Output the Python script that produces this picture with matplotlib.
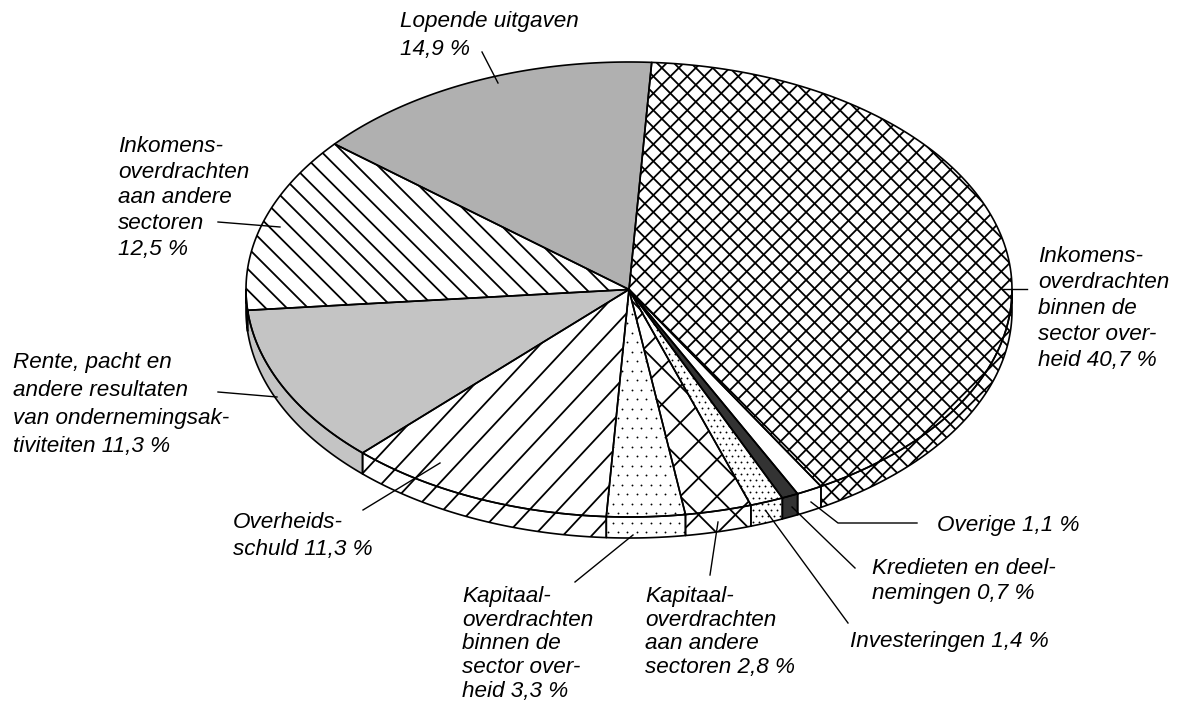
import numpy as np
import matplotlib.pyplot as plt
from matplotlib.patches import Polygon
from matplotlib.collections import LineCollection

plt.rcParams['font.family'] = ['Liberation Sans', 'DejaVu Sans']

# data: slices clockwise starting at the top
labels = ["Inkomens-\noverdrachten\nbinnen de\nsector over-\nheid 40,7 %",
          "Overige 1,1 %",
          "Kredieten en deel-\nnemingen 0,7 %",
          "Investeringen 1,4 %",
          "Kapitaal-\noverdrachten\naan andere\nsectoren 2,8 %",
          "Kapitaal-\noverdrachten\nbinnen de\nsector over-\nheid 3,3 %",
          "Overheids-\nschuld 11,3 %",
          "Rente, pacht en\nandere resultaten\nvan ondernemingsak-\ntiviteiten 11,3 %",
          "Inkomens-\noverdrachten\naan andere\nsectoren\n12,5 %",
          "Lopende uitgaven\n14,9 %"]
shares = [40.7, 1.1, 0.7, 1.4, 2.8, 3.3, 11.3, 11.3, 12.5, 14.9]

# fill style per slice: (facecolor, kind, param)
styles = [("white", "cross", 12),
          ("white", None, 0),
          ("#333333", None, 0),
          ("white", "dots", 6),
          ("white", "cross", 26),
          ("white", "dots", 9.5),
          ("white", "fwd", 21),
          ("#c4c4c4", None, 0),
          ("white", "back", 15),
          ("#b0b0b0", None, 0)]

# label placement: (x, first baseline, line step)
label_pos = [(1038, 262, 26), (937, 531, 25), (872, 574, 24.5), (850, 647, 25),
             (645, 602, 23.5), (462, 602, 23.7), (233, 528, 27),
             (13, 368, 28), (118, 152, 25.7), (400, 27, 28)]
leaders = [[(1027, 289), (1003, 289)],
           [(917, 523), (838, 523), (811, 502)],
           [(855, 568), (792, 507)],
           [(848, 623), (766, 511)],
           [(710, 575), (718, 522)],
           [(575, 582), (633, 535)],
           [(363, 510), (440, 463)],
           [(218, 392), (277, 397)],
           [(218, 222), (280, 227)],
           [(482, 52), (498, 83)]]

W, H = 1193, 708
fig = plt.figure(figsize=(W / 100, H / 100), dpi=100)
ax = fig.add_axes([0, 0, 1, 1])
ax.set_xlim(0, W)
ax.set_ylim(H, 0)
ax.axis('off')

cx, cy, rx, ry, depth = 629, 289.5, 383, 227.5, 21
start = 86.6


def arc(t1, t2, dy=0, n=120):
    t = np.radians(np.linspace(t1, t2, n))
    return np.column_stack([cx + rx * np.cos(t), cy - ry * np.sin(t) + dy])


def lines_in(patch, angle, gap, lw=1.3):
    xy = patch.get_xy()
    d = np.array([np.cos(np.radians(angle)), -np.sin(np.radians(angle))])
    nrm = np.array([-d[1], d[0]])
    proj = xy @ nrm
    L = 2000
    segs = []
    for k in range(int(np.floor(proj.min() / gap)), int(np.ceil(proj.max() / gap)) + 1):
        p = nrm * k * gap
        segs.append([p - d * L, p + d * L])
    lc = LineCollection(segs, colors='black', linewidths=lw, zorder=2)
    ax.add_collection(lc)
    lc.set_clip_path(patch)


def dots_in(patch, gap):
    xy = patch.get_xy()
    xs = np.arange(np.floor(xy[:, 0].min() / gap) * gap, xy[:, 0].max() + gap, gap)
    ys = np.arange(np.floor(xy[:, 1].min() / gap) * gap, xy[:, 1].max() + gap, gap)
    gx, gy = np.meshgrid(xs, ys)
    gx = gx + (np.arange(len(ys))[:, None] % 2) * gap / 2
    sc = ax.scatter(gx.ravel(), gy.ravel(), s=1.8, c='black', lw=0, zorder=2)
    sc.set_clip_path(patch)


def fill(poly, style):
    fc, kind, p = style
    patch = Polygon(poly, closed=True, facecolor=fc, edgecolor='none', zorder=1)
    ax.add_patch(patch)
    if kind == "cross":
        lines_in(patch, 45, p)
        lines_in(patch, -45, p)
    elif kind == "fwd":
        lines_in(patch, 47, p)
    elif kind == "back":
        lines_in(patch, -45, p)
    elif kind == "dots":
        dots_in(patch, p)
    ax.add_patch(Polygon(poly, closed=True, facecolor='none', edgecolor='black',
                         lw=1.2, zorder=3, joinstyle='round'))


edges = start - 360 * np.concatenate([[0], np.cumsum(shares)]) / 100

for i, st in enumerate(styles):
    hi, lo = edges[i], edges[i + 1]
    # side wall (front half only)
    a, b = max(lo, -180), min(hi, 0)
    if a < b:
        top = arc(b, a)
        bot = arc(a, b, depth)
        fill(np.vstack([top, bot]), st)
    # top face
    fill(np.vstack([[cx, cy], arc(hi, lo)]), st)

for lab, (x, y, step), ld in zip(labels, label_pos, leaders):
    ld = np.array(ld)
    ax.plot(ld[:, 0], ld[:, 1], color='black', lw=1.0, zorder=4)
    for j, line in enumerate(lab.split("\n")):
        ax.text(x, y + j * step, line, fontsize=16.2, style='italic',
                ha='left', va='baseline', zorder=5)

fig.savefig("out.png", dpi=100, facecolor='white')
